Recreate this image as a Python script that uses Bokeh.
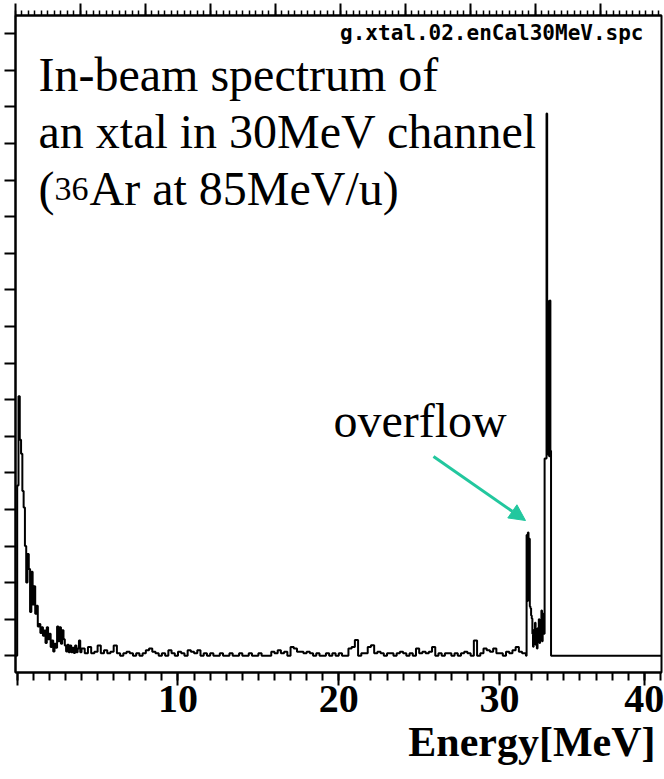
import numpy as np
from bokeh.plotting import figure
from bokeh.models import Range1d, LinearAxis, FixedTicker, Label, Arrow, NormalHead, Title
from bokeh.embed import file_html
from bokeh.resources import INLINE

# ---------------- data (counts per bin) ----------------
# low-energy region: 0.0 - 4.0 MeV, bins of 0.08 MeV
low_start, low_width = 0.0, 0.08
low_counts = [465, 709, 590, 552, 450, 405, 300, 200, 278, 237,
              120, 230, 140, 190, 115, 137, 80, 87, 62, 78,
              55, 69, 35, 78, 45, 60, 24, 42, 12, 33,
              22, 80, 40, 78, 33, 70, 45, 28, 12, 30,
              10, 28, 10, 22, 8, 28, 10, 20, 42, 10]
# flat region: 4.0 - 31.6 MeV, bins of 0.2 MeV
mid_start, mid_width = 4.0, 0.2
mid_counts = [20, 7, 24, 7, 11, 28, 7, 15, 7, 11,
              28, 7, 0, 7, 11, 7, 0, 7, 0, 7,
              15, 20, 11, 7, 0, 7, 0, 15, 7, 0,
              11, 7, 0, 15, 11, 7, 15, 0, 7, 0,
              7, 0, 0, 7, 0, 0, 7, 0, 0, 7,
              0, 0, 7, 0, 0, 7, 0, 0, 0, 11,
              7, 15, 7, 11, 0, 24, 20, 11, 11, 7,
              11, 7, 0, 7, 0, 0, 7, 0, 7, 0,
              7, 0, 0, 20, 24, 43, 0, 7, 7, 24,
              29, 7, 11, 7, 0, 7, 7, 0, 7, 11,
              7, 0, 7, 0, 20, 7, 11, 7, 11, 24,
              0, 7, 0, 7, 7, 0, 7, 0, 7, 11,
              7, 0, 42, 0, 7, 20, 15, 11, 20, 7,
              7, 0, 11, 7, 15, 24, 11, 7]
# overflow + main peak region: 31.6 - 33.2 MeV, bins of 0.04 MeV
peak_start, peak_width = 31.6, 0.04
peak_counts = [7, 0, 330, 150, 337, 160, 320, 135, 130, 110,
               102, 60, 25, 70, 40, 90, 30, 60, 20, 75,
               45, 100, 35, 80, 50, 124, 40, 90, 115, 60,
               539, 539, 539, 1482, 971, 550, 960, 545, 971, 560]
spectrum_end = 40.1

x_tick_values = [0, 10, 20, 30, 39]
x_tick_labels = ["", "10", "20", "30", "40"]
y_tick_values = list(range(0, 1800, 100))
top_tick_values = list(range(0, 1000, 100))
top_minor_values = list(range(0, 1000, 10))

# ---------------- build step outline ----------------
edges, counts = [-0.1], [0]
for start, width, vals in [(low_start, low_width, low_counts),
                           (mid_start, mid_width, mid_counts),
                           (peak_start, peak_width, peak_counts)]:
    for i, v in enumerate(vals):
        edges.append(start + i * width)
        counts.append(v)
edges.append(peak_start + len(peak_counts) * peak_width)
counts.append(0)
edges.append(spectrum_end)
counts.append(0)

# ---------------- figure ----------------
W, H = 664, 779
FL, FR, FT, FB = 15, 661, 15, 672
X0, X1 = -0.106, 40.07
Y0, Y1 = -45.6, 1749.5


def xd(px):
    return X0 + (px - FL) / (FR - FL) * (X1 - X0)


def yd(py):
    return Y0 + (FB - py) / (FB - FT) * (Y1 - Y0)


p = figure(width=W, height=H, output_backend="svg", toolbar_location=None,
           x_range=Range1d(X0, X1), y_range=Range1d(Y0, Y1),
           min_border_left=FL, min_border_right=W - FR,
           min_border_top=FT, min_border_bottom=H - FB)
p.background_fill_color = "white"
p.border_fill_color = "white"
p.outline_line_color = "black"
p.outline_line_width = 2
p.xgrid.visible = False
p.ygrid.visible = False

serif = "Liberation Serif"

# bottom axis
xa = p.xaxis[0]
xa.ticker = FixedTicker(ticks=x_tick_values, minor_ticks=list(range(0, 41)))
xa.major_label_overrides = {v: l for v, l in zip(x_tick_values, x_tick_labels)}
xa.major_label_text_font = serif
xa.major_label_text_font_style = "bold"
xa.major_label_text_font_size = "40px"
xa.major_label_text_color = "black"
xa.major_label_standoff = 0
xa.major_tick_out = 13
xa.major_tick_in = 0
xa.minor_tick_out = 8
xa.minor_tick_in = 0
xa.axis_line_width = 2
xa.major_tick_line_width = 2
xa.minor_tick_line_width = 2

# left axis (ticks only)
ya = p.yaxis[0]
ya.ticker = FixedTicker(ticks=y_tick_values, minor_ticks=[])
ya.major_label_overrides = {v: "" for v in y_tick_values}
ya.major_label_text_font_size = "1px"
ya.major_label_standoff = 0
ya.major_tick_out = 11
ya.major_tick_in = 0
ya.axis_line_width = 2
ya.major_tick_line_width = 2

# top (channel) axis, ticks only
p.extra_x_ranges = {"chan": Range1d(0, 994)}
ta = LinearAxis(x_range_name="chan",
                ticker=FixedTicker(ticks=top_tick_values, minor_ticks=top_minor_values))
ta.major_label_overrides = {v: "" for v in top_tick_values}
ta.major_label_text_font_size = "1px"
ta.major_label_standoff = 0
ta.major_tick_out = 12
ta.major_tick_in = 0
ta.minor_tick_out = 5
ta.minor_tick_in = 0
ta.axis_line_width = 2
ta.major_tick_line_width = 2
ta.minor_tick_line_width = 1.5
p.add_layout(ta, "above")

# x-axis title, right aligned under the axis
p.add_layout(Title(text="Energy[MeV]", align="right", offset=6, standoff=5,
                   text_font=serif, text_font_style="bold", text_font_size="42px",
                   text_color="black"), "below")

# spectrum
p.step(x=edges, y=counts, mode="after", line_color="black", line_width=2)

# annotations
p.add_layout(Label(x=xd(643), y=yd(32), text="g.xtal.02.enCal30MeV.spc",
                   text_align="right", text_baseline="middle",
                   text_font="DejaVu Sans Mono", text_font_style="bold",
                   text_font_size="21px", text_color="black"))
p.add_layout(Label(x=xd(38), y=yd(100), text="In-beam spectrum of",
                   text_font=serif, text_font_size="48px", text_color="black"))
p.add_layout(Label(x=xd(38), y=yd(157), text="an xtal in 30MeV channel",
                   text_font=serif, text_font_size="48px", text_color="black"))
p.add_layout(Label(x=xd(38), y=yd(214), text="(",
                   text_font=serif, text_font_size="48px", text_color="black"))
p.add_layout(Label(x=xd(54), y=yd(199), text="36",
                   text_font=serif, text_font_size="34px", text_color="black"))
p.add_layout(Label(x=xd(89), y=yd(214), text="Ar at 85MeV/u)",
                   text_font=serif, text_font_size="48px", text_color="black"))
p.add_layout(Label(x=xd(333), y=yd(446), text="overflow",
                   text_font=serif, text_font_size="48px", text_color="black"))

teal = "#22c79e"
p.add_layout(Arrow(end=NormalHead(size=16, fill_color=teal, line_color=teal),
                   x_start=xd(433), y_start=yd(456), x_end=xd(525), y_end=yd(520),
                   line_color=teal, line_width=3))

open("out.html", "w").write(file_html(p, INLINE))
